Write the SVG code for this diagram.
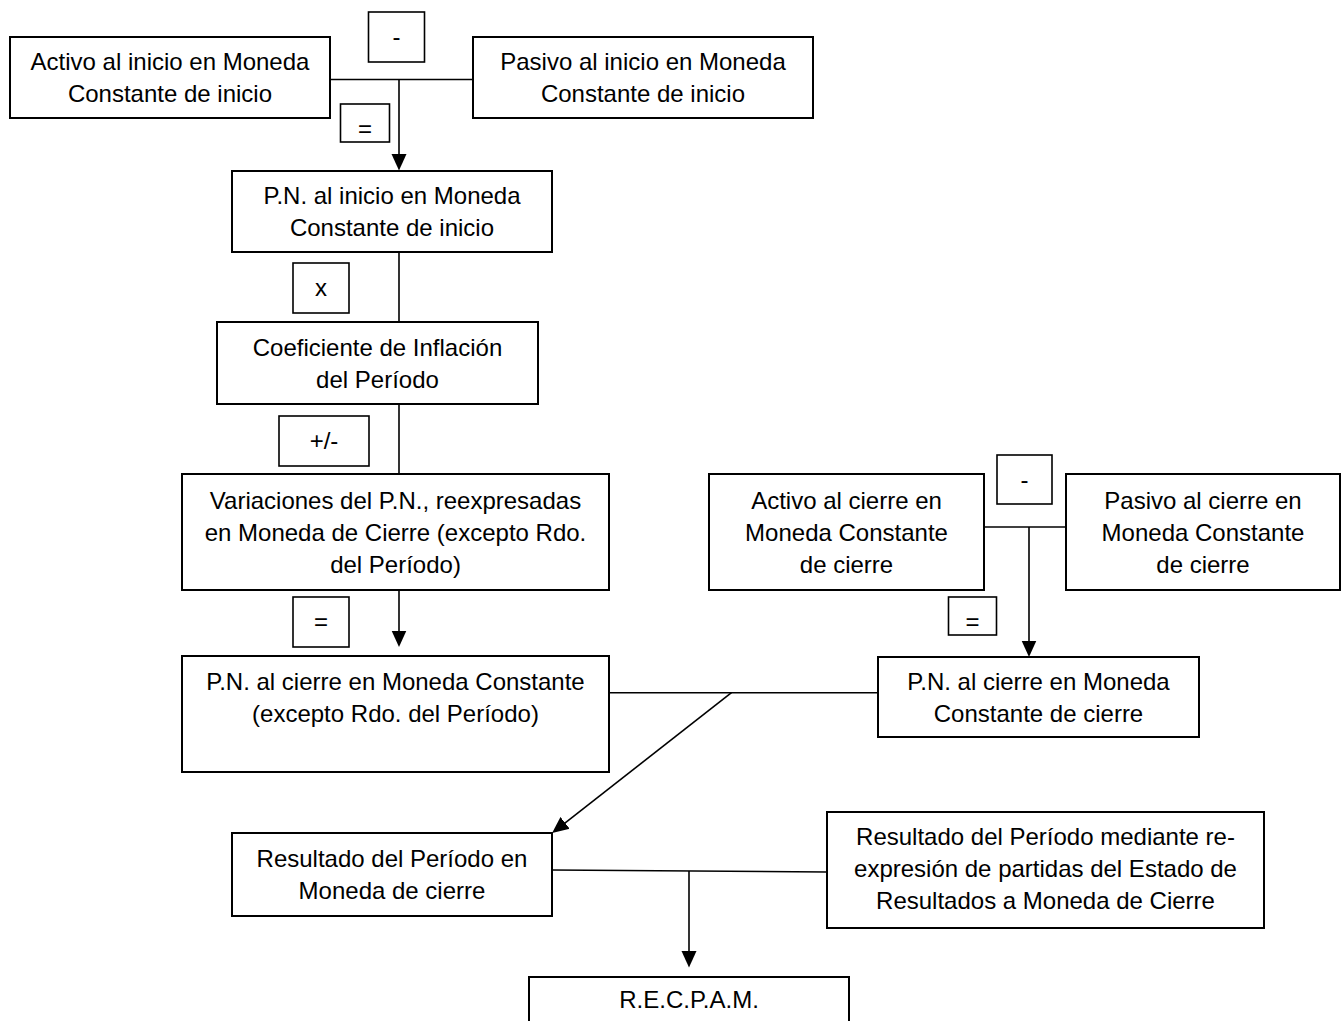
<svg xmlns="http://www.w3.org/2000/svg" width="1343" height="1021" viewBox="0 0 1343 1021">
  <style>
    .box { fill: #ffffff; stroke: #000000; stroke-width: 2; }
    .op { fill: #ffffff; stroke: #000000; stroke-width: 1.6; }
    .lbl { font-family: "Liberation Sans", Arial, sans-serif; font-size: 24px; fill: #000000; text-anchor: middle; }
    .wire { fill: none; stroke: #000000; stroke-width: 1.6; }
    .arrow { fill: none; stroke: #000000; stroke-width: 1.6; marker-end: url(#head); }
  </style>
  <defs>
    <marker id="head" markerUnits="userSpaceOnUse" markerWidth="17" markerHeight="16" viewBox="0 0 17 16" refX="8" refY="8" orient="auto">
      <path d="M0,0.5 L16.5,8 L0,15.5 Z" fill="#000000"/>
    </marker>
  </defs>

  <rect x="0" y="0" width="1343" height="1021" fill="#ffffff"/>

  <!-- connectors -->
  <g id="connectors">
    <line class="wire" x1="330" y1="79.5" x2="473" y2="79.5"/>
    <line class="arrow" x1="399" y1="79.5" x2="399" y2="162"/>
    <line class="wire" x1="399" y1="252" x2="399" y2="322"/>
    <line class="wire" x1="399" y1="404" x2="399" y2="474"/>
    <line class="arrow" x1="399" y1="590" x2="399" y2="638.5"/>
    <line class="wire" x1="984" y1="527" x2="1066" y2="527"/>
    <line class="arrow" x1="1029" y1="527" x2="1029" y2="648.5"/>
    <line class="wire" x1="609" y1="692.7" x2="878" y2="692.7"/>
    <line class="arrow" x1="731.5" y1="692.7" x2="558.8" y2="827.8"/>
    <line class="wire" x1="552" y1="870" x2="827" y2="872"/>
    <line class="arrow" x1="689" y1="871" x2="689" y2="959"/>
  </g>

  <!-- operator labels -->
  <g id="op-minus-inicio">
    <rect class="op" x="368.5" y="12" width="56" height="50"/>
    <text class="lbl" x="396.5" y="45">-</text>
  </g>
  <g id="op-equals-inicio">
    <rect class="op" x="340.5" y="104" width="49" height="38"/>
    <text class="lbl" x="365" y="137">=</text>
  </g>
  <g id="op-times">
    <rect class="op" x="293" y="263" width="56" height="50"/>
    <text class="lbl" x="321" y="296">x</text>
  </g>
  <g id="op-plusminus">
    <rect class="op" x="279" y="416" width="90" height="50"/>
    <text class="lbl" x="324" y="449">+/-</text>
  </g>
  <g id="op-equals-variaciones">
    <rect class="op" x="293" y="597" width="56" height="50"/>
    <text class="lbl" x="321" y="630">=</text>
  </g>
  <g id="op-minus-cierre">
    <rect class="op" x="997" y="455" width="55" height="49"/>
    <text class="lbl" x="1024.5" y="488">-</text>
  </g>
  <g id="op-equals-cierre">
    <rect class="op" x="948.5" y="597" width="48" height="38"/>
    <text class="lbl" x="972.5" y="630">=</text>
  </g>

  <!-- nodes -->
  <g id="activo-inicio">
    <rect class="box" x="10" y="37" width="320" height="81"/>
    <text class="lbl" x="170" y="70">Activo al inicio en Moneda</text>
    <text class="lbl" x="170" y="102">Constante de inicio</text>
  </g>
  <g id="pasivo-inicio">
    <rect class="box" x="473" y="37" width="340" height="81"/>
    <text class="lbl" x="643" y="70">Pasivo al inicio en Moneda</text>
    <text class="lbl" x="643" y="102">Constante de inicio</text>
  </g>
  <g id="pn-inicio">
    <rect class="box" x="232" y="171" width="320" height="81"/>
    <text class="lbl" x="392" y="204">P.N. al inicio en Moneda</text>
    <text class="lbl" x="392" y="236">Constante de inicio</text>
  </g>
  <g id="coeficiente">
    <rect class="box" x="217" y="322" width="321" height="82"/>
    <text class="lbl" x="377.5" y="356">Coeficiente de Inflación</text>
    <text class="lbl" x="377.5" y="388">del Período</text>
  </g>
  <g id="variaciones">
    <rect class="box" x="182" y="474" width="427" height="116"/>
    <text class="lbl" x="395.5" y="508.5">Variaciones del P.N., reexpresadas</text>
    <text class="lbl" x="395.5" y="540.5">en Moneda de Cierre (excepto Rdo.</text>
    <text class="lbl" x="395.5" y="572.5">del Período)</text>
  </g>
  <g id="pn-cierre-excepto">
    <rect class="box" x="182" y="656" width="427" height="116"/>
    <text class="lbl" x="395.5" y="690">P.N. al cierre en Moneda Constante</text>
    <text class="lbl" x="395.5" y="722">(excepto Rdo. del Período)</text>
  </g>
  <g id="activo-cierre">
    <rect class="box" x="709" y="474" width="275" height="116"/>
    <text class="lbl" x="846.5" y="508.5">Activo al cierre en</text>
    <text class="lbl" x="846.5" y="540.5">Moneda Constante</text>
    <text class="lbl" x="846.5" y="572.5">de cierre</text>
  </g>
  <g id="pasivo-cierre">
    <rect class="box" x="1066" y="474" width="274" height="116"/>
    <text class="lbl" x="1203" y="508.5">Pasivo al cierre en</text>
    <text class="lbl" x="1203" y="540.5">Moneda Constante</text>
    <text class="lbl" x="1203" y="572.5">de cierre</text>
  </g>
  <g id="pn-cierre">
    <rect class="box" x="878" y="657" width="321" height="80"/>
    <text class="lbl" x="1038.5" y="690">P.N. al cierre en Moneda</text>
    <text class="lbl" x="1038.5" y="722">Constante de cierre</text>
  </g>
  <g id="resultado-cierre">
    <rect class="box" x="232" y="833" width="320" height="83"/>
    <text class="lbl" x="392" y="867">Resultado del Período en</text>
    <text class="lbl" x="392" y="899">Moneda de cierre</text>
  </g>
  <g id="resultado-reexpresion">
    <rect class="box" x="827" y="812" width="437" height="116"/>
    <text class="lbl" x="1045.5" y="845">Resultado del Período mediante re-</text>
    <text class="lbl" x="1045.5" y="877">expresión de partidas del Estado de</text>
    <text class="lbl" x="1045.5" y="909">Resultados a Moneda de Cierre</text>
  </g>
  <g id="recpam">
    <rect class="box" x="529" y="977" width="320" height="70"/>
    <text class="lbl" x="689" y="1008">R.E.C.P.A.M.</text>
  </g>
</svg>
